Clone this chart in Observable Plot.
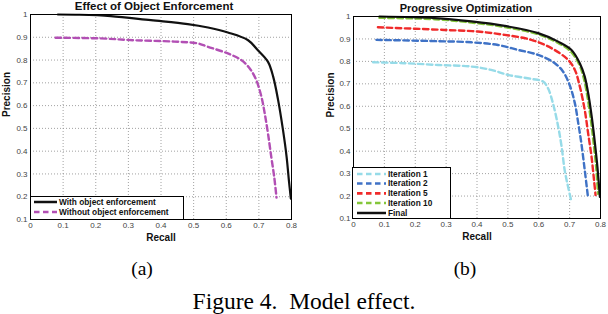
<!DOCTYPE html>
<html>
<head>
<meta charset="utf-8">
<script src="https://cdn.jsdelivr.net/npm/d3@7"></script>
<script src="https://cdn.jsdelivr.net/npm/@observablehq/plot@0.6"></script>
<style>
  html, body { margin: 0; padding: 0; background: #fff; }
  #root { position: relative; width: 608px; height: 314px; background: #fff; overflow: hidden; }
  .panel { position: absolute; top: 0; }
  .overlay { position: absolute; left: 0; top: 0; }
</style>
</head>
<body>
<div id="root"></div>
<script>
// ---------- data ----------
const xTicks = [0, 0.1, 0.2, 0.3, 0.4, 0.5, 0.6, 0.7, 0.8];
const yTicks = [0.1, 0.2, 0.3, 0.4, 0.5, 0.6, 0.7, 0.8, 0.9, 1];

const titleA = "Effect of Object Enforcement";
const titleB = "Progressive Optimization";
const xLabel = "Recall";
const yLabel = "Precision";
const captionA = "(a)";
const captionB = "(b)";
const figureCaption = "Figure 4.  Model effect.";

// panel (a)
const withName = "With object enforcement";
const withRecall    = [0.084, 0.15, 0.246, 0.369, 0.482, 0.544, 0.605, 0.667, 0.697, 0.728, 0.744, 0.759, 0.774, 0.785, 0.792, 0.798];
const withPrecision = [1.0, 0.999, 0.993, 0.975, 0.958, 0.943, 0.921, 0.887, 0.843, 0.792, 0.726, 0.624, 0.492, 0.375, 0.272, 0.192];

const withoutName = "Without object enforcement";
const withoutRecall    = [0.077, 0.215, 0.318, 0.441, 0.513, 0.544, 0.605, 0.646, 0.672, 0.692, 0.708, 0.718, 0.728, 0.738, 0.747, 0.754];
const withoutPrecision = [0.898, 0.895, 0.887, 0.881, 0.873, 0.858, 0.829, 0.80, 0.763, 0.712, 0.638, 0.565, 0.477, 0.375, 0.287, 0.196];

// panel (b)
const iter1Name = "Iteration 1";
const iter1Recall    = [0.063, 0.165, 0.274, 0.382, 0.446, 0.5, 0.576, 0.614, 0.63, 0.646, 0.663, 0.674, 0.684, 0.695, 0.706];
const iter1Precision = [0.796, 0.792, 0.784, 0.777, 0.762, 0.74, 0.722, 0.71, 0.68, 0.613, 0.509, 0.42, 0.315, 0.241, 0.174];

const iter2Name = "Iteration 2";
const iter2Recall    = [0.074, 0.274, 0.382, 0.468, 0.533, 0.598, 0.652, 0.679, 0.70, 0.717, 0.728, 0.738, 0.749, 0.76];
const iter2Precision = [0.896, 0.89, 0.885, 0.873, 0.851, 0.829, 0.792, 0.754, 0.695, 0.613, 0.524, 0.435, 0.315, 0.189];

const iter5Name = "Iteration 5";
const iter5Recall    = [0.079, 0.295, 0.403, 0.49, 0.576, 0.641, 0.695, 0.717, 0.733, 0.749, 0.76, 0.771, 0.779, 0.784];
const iter5Precision = [0.952, 0.94, 0.933, 0.918, 0.896, 0.859, 0.807, 0.762, 0.688, 0.583, 0.479, 0.375, 0.271, 0.204];

const iter10Name = "Iteration 10";
const iter10Recall    = [0.084, 0.263, 0.382, 0.49, 0.598, 0.663, 0.703, 0.73, 0.745, 0.758, 0.769, 0.778, 0.786, 0.792];
const iter10Precision = [0.994, 0.988, 0.973, 0.953, 0.921, 0.882, 0.845, 0.79, 0.73, 0.64, 0.537, 0.432, 0.328, 0.21];

const finalName = "Final";
const finalRecall    = [0.084, 0.263, 0.382, 0.49, 0.598, 0.663, 0.706, 0.733, 0.749, 0.762, 0.773, 0.782, 0.79, 0.798];
const finalPrecision = [1.0, 0.993, 0.978, 0.958, 0.926, 0.888, 0.851, 0.792, 0.732, 0.643, 0.539, 0.435, 0.33, 0.196];

// ---------- helpers ----------
const toRows = (rs, ps) => rs.map((r, i) => ({recall: r, precision: ps[i]}));
const fmt = d => String(+d.toFixed(1));
const sans = "'Liberation Sans', Arial, Helvetica, sans-serif";
const serif = "'Liberation Serif', 'Times New Roman', serif";

const seriesA = [
  {name: withName, rows: toRows(withRecall, withPrecision), color: "#111", dash: null, width: 2.2},
  {name: withoutName, rows: toRows(withoutRecall, withoutPrecision), color: "#b24fb4", dash: "5.5,3.5", width: 2.4}
];
const seriesB = [
  {name: iter1Name, rows: toRows(iter1Recall, iter1Precision), color: "#96dbe8", dash: "5.5,3.5", width: 2.4},
  {name: iter2Name, rows: toRows(iter2Recall, iter2Precision), color: "#3f72c6", dash: "5.5,3.5", width: 2.4},
  {name: iter5Name, rows: toRows(iter5Recall, iter5Precision), color: "#f02a2a", dash: "5.5,3.5", width: 2.4},
  {name: iter10Name, rows: toRows(iter10Recall, iter10Precision), color: "#84c63a", dash: "5.5,3.5", width: 2.4},
  {name: finalName, rows: toRows(finalRecall, finalPrecision), color: "#111", dash: null, width: 2.2}
];

function panel(series, title, opts) {
  const marks = [
    Plot.gridX(xTicks, {stroke: "#8a8a8a", strokeOpacity: 1, strokeWidth: 0.8, strokeDasharray: "1,2"}),
    Plot.gridY(yTicks, {stroke: "#8a8a8a", strokeOpacity: 1, strokeWidth: 0.8, strokeDasharray: "1,2"}),
    Plot.axisX(xTicks, {tickSize: 0, tickPadding: 3, tickFormat: fmt, label: null, fill: "#444", fontSize: 8}),
    Plot.axisY(yTicks, {tickSize: 0, tickPadding: 3, tickFormat: fmt, label: null, fill: "#444", fontSize: 8}),
  ];
  for (const s of series) {
    marks.push(Plot.line(s.rows, {x: "recall", y: "precision", stroke: s.color, strokeWidth: s.width,
      strokeDasharray: s.dash, curve: "catmull-rom"}));
  }
  marks.push(Plot.frame({stroke: "#000", strokeWidth: 1}));
  marks.push(Plot.text([title], {frameAnchor: "top", lineAnchor: "middle", dy: opts.titleDy, dx: opts.titleDx,
    fontWeight: "bold", fontSize: opts.titleSize, fill: "#111"}));
  marks.push(Plot.text([xLabel], {frameAnchor: "bottom", lineAnchor: "middle", dy: 18,
    fontWeight: "bold", fontSize: 10, fill: "#111"}));
  marks.push(Plot.text([yLabel], {frameAnchor: "left", lineAnchor: "middle", rotate: -90, dx: opts.yLabelDx,
    fontWeight: "bold", fontSize: 10, fill: "#111"}));
  return Plot.plot({
    width: 304, height: 245,
    marginLeft: opts.ml, marginRight: opts.mr, marginTop: opts.mt, marginBottom: opts.mb,
    x: {domain: [0, 0.8]},
    y: {domain: [0.1, 1]},
    style: {fontFamily: sans, fontSize: "8px", background: "transparent", overflow: "visible"},
    marks
  });
}

const root = document.getElementById("root");

const pa = panel(seriesA, titleA, {ml: 30, mr: 13, mt: 14, mb: 26, titleDx: -7, titleDy: -8, titleSize: 11.5, yLabelDx: -24});
pa.classList.add("panel"); pa.style.left = "0px";
root.appendChild(pa);

const pb = panel(seriesB, titleB, {ml: 49, mr: 8, mt: 16, mb: 27, titleDx: -11, titleDy: -8, titleSize: 11, yLabelDx: -23});
pb.classList.add("panel"); pb.style.left = "304px";
root.appendChild(pb);

// ---------- overlay: legends and captions ----------
const ov = d3.select(root).append("svg").attr("class", "overlay").attr("width", 608).attr("height", 314);

function legend(series, box, rowY, lineX0, lineX1, textX) {
  const g = ov.append("g");
  g.append("rect").attr("x", box.x + 0.5).attr("y", box.y + 0.5).attr("width", box.w).attr("height", box.h)
    .attr("fill", "#fff").attr("stroke", "#000").attr("stroke-width", 1);
  series.forEach((s, i) => {
    const y = rowY[i];
    g.append("line").attr("x1", lineX0).attr("x2", lineX1).attr("y1", y).attr("y2", y)
      .attr("stroke", s.color).attr("stroke-width", s.width + 0.3)
      .attr("stroke-dasharray", s.dash);
    g.append("text").attr("x", textX).attr("y", y).attr("dy", "0.35em")
      .attr("font-family", sans).attr("font-weight", "bold").attr("font-size", 8.3).attr("fill", "#111")
      .text(s.name);
  });
}
legend(seriesA, {x: 30, y: 196, w: 153, h: 23}, [202, 212], 34, 57, 59);
legend(seriesB, {x: 352, y: 167, w: 98, h: 51}, [174, 183.5, 193.3, 203, 213], 357, 386, 388);

ov.append("text").attr("x", 142).attr("y", 274.5).attr("text-anchor", "middle")
  .attr("font-family", serif).attr("font-size", 19.5).attr("fill", "#000").text(captionA);
ov.append("text").attr("x", 465).attr("y", 274.5).attr("text-anchor", "middle")
  .attr("font-family", serif).attr("font-size", 19.5).attr("fill", "#000").text(captionB);
ov.append("text").attr("x", 304).attr("y", 308.5).attr("text-anchor", "middle")
  .attr("font-family", serif).attr("font-size", 23.5).attr("fill", "#000")
  .attr("xml:space", "preserve").style("white-space", "pre").text(figureCaption);
</script>
</body>
</html>
